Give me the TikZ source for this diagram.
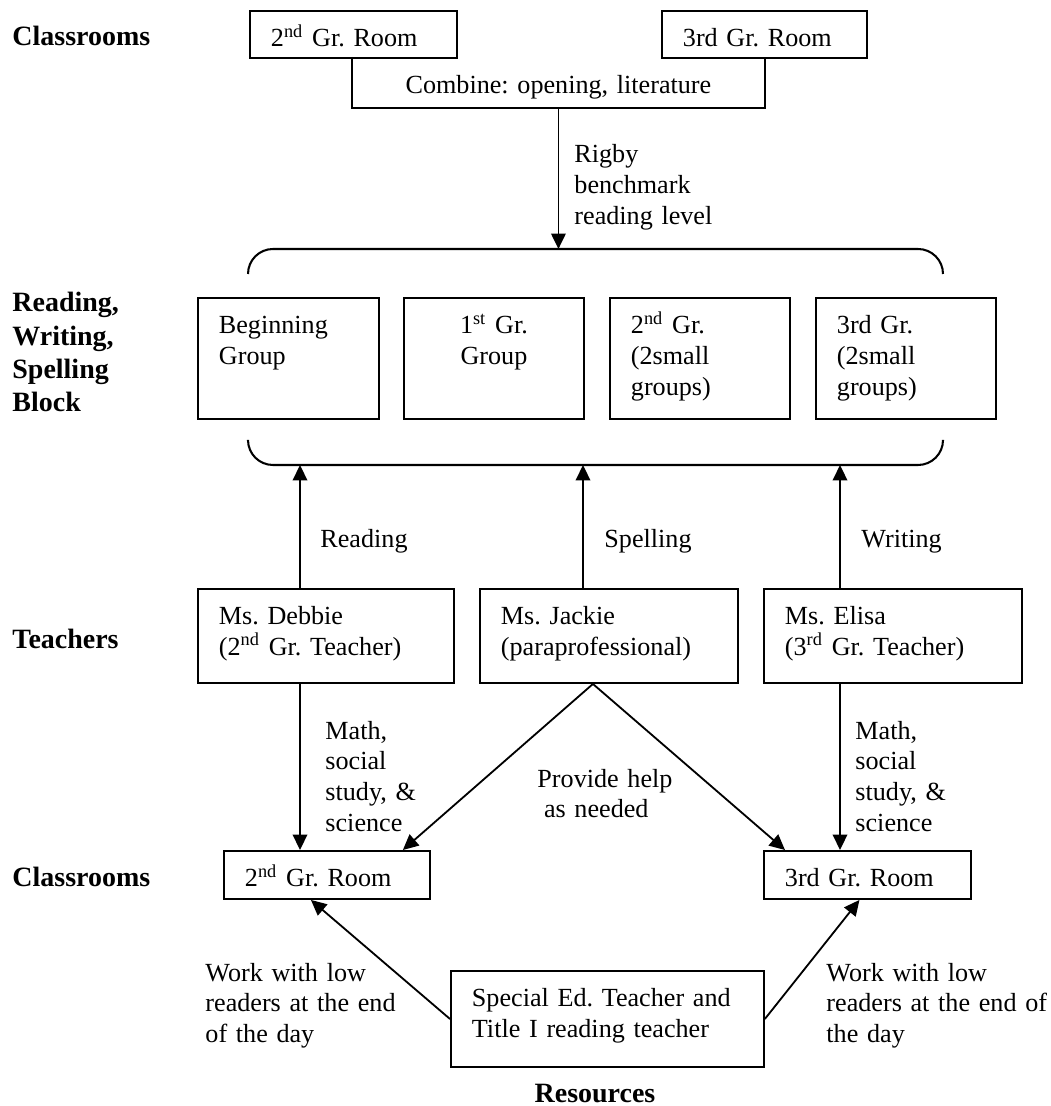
\documentclass[tikz,border=0pt]{standalone}
\usepackage{fontspec}
\setmainfont{Liberation Serif}
\usepackage{tikz}
\usetikzlibrary{arrows.meta,calc}
\tikzset{
	box/.style 2 args={
			draw, line width=0.9pt, anchor=north west, align=left,
			inner xsep=9.2pt, inner ysep=0pt, text height=15.8pt,
			/utils/exec={\pgfmathsetlengthmacro\boxwd{(#1-42)*0.44pt}%
					\pgfmathsetlengthmacro\boxdp{(#2-36)*0.44pt}},
			text width=\boxwd, text depth=\boxdp
		},
	note/.style={anchor=base west, align=left, text width=4cm, inner sep=0pt},
	lbl/.style={anchor=base west, inner sep=0pt, font=\bfseries\fontsize{12.3}{14.6}\selectfont},
	arr/.style={-{Triangle[length=6.8pt,width=6.4pt]}, line width=0.8pt},
	line/.style={line width=0.9pt}
}

\begin{document}
\frenchspacing
\begin{tikzpicture}[x=0.44pt, y=-0.44pt, font=\fontsize{11.5}{13.6}\selectfont]
        \useasboundingbox (0,0) rectangle (1050,1106);

        % Classrooms at the top
        \node[lbl] (cls1) at (12,46) {Classrooms};
        \node[box={207}{47}] (room2a) at (249,10) {2\textsuperscript{nd} Gr. Room};
        \node[box={205}{47}] (room3a) at (661,10) {3rd Gr. Room};
        \node[box={411}{49}, draw=none, align=center] (combine) at (352,57) {Combine: opening, literature};
        \draw[line] (combine.north west) -- (combine.south west) -- (combine.south east) -- (combine.north east);

        % Brackets round the groups
        \coordinate (brtop) at (556,249);
        \coordinate (readx) at (300,465);
        \coordinate (spellx) at (583,465);
        \coordinate (writex) at (840,465);
        \draw[line, rounded corners=11pt] (248,274) -- (248,249) -- (943,249) -- (943,274);
        \draw[line, rounded corners=11pt] (248,441) -- (248,465) -- (943,465) -- (943,441);

        \draw[arr] (combine.south) -- (combine.south |- brtop);
        \node[note] (rigby) at (574,163) {Rigby\\benchmark\\reading level};

        % Reading, writing, spelling block
        \node[lbl, align=left, text width=3cm] (rwsb) at (12,312) {Reading,\\Writing,\\Spelling\\Block};
        \node[box={181}{121}] (beginning) at (197,297) {Beginning\\Group};
        \node[box={180}{121}, align=center] (first) at (403,297) {1\textsuperscript{st} Gr.\\Group};
        \node[box={180}{121}] (second) at (609,297) {2\textsuperscript{nd} Gr.\\(2small\\groups)};
        \node[box={180}{121}] (third) at (815,297) {3rd Gr.\\(2small\\groups)};

        % Teachers
        \node[lbl] (tch) at (12,648) {Teachers};
        \node[box={256}{94}] (debbie) at (197,588) {Ms. Debbie\\(2\textsuperscript{nd} Gr. Teacher)};
        \node[box={258}{94}] (jackie) at (479,588) {Ms. Jackie\\(paraprofessional)};
        \node[box={258}{94}] (elisa) at (763,588) {Ms. Elisa\\(3\textsuperscript{rd} Gr. Teacher)};

        \draw[arr] (readx |- debbie.north) -- (readx);
        \draw[arr] (spellx |- jackie.north) -- (spellx);
        \draw[arr] (writex |- elisa.north) -- (writex);
        \node[note] (reading) at (320,547) {Reading};
        \node[note] (spelling) at (604,547) {Spelling};
        \node[note] (writing) at (861,547) {Writing};

        % Classrooms at the bottom
        \node[lbl] (cls2) at (12,886) {Classrooms};
        \node[box={206}{48}] (room2b) at (223,850) {2\textsuperscript{nd} Gr. Room};
        \node[box={207}{48}] (room3b) at (763,850) {3rd Gr. Room};

        \draw[arr] (readx |- debbie.south) -- (readx |- room2b.north);
        \draw[arr] (writex |- elisa.south) -- (writex |- room3b.north);
        \draw[arr] ($(jackie.south)+(-16,0)$) -- ($(room2b.north east)+(-28,0)$);
        \draw[arr] ($(jackie.south)+(-16,0)$) -- ($(room3b.north west)+(22,0)$);
        \node[note] (math2) at (325,739) {Math,\\social\\study, \&\\science};
        \node[note] (math3) at (855,739) {Math,\\social\\study, \&\\science};
        \node[note] (help) at (537,787) {Provide help\\\hspace*{0.25em}as needed};

        % Resources
        \node[box={313}{96}] (special) at (450,970) {Special Ed. Teacher and\\Title I reading teacher};
        \draw[arr] (special.west) -- ($(room2b.south)+(-16,0)$);
        \draw[arr] (special.east) -- ($(room3b.south)+(-8,0)$);
        \node[note] (low2) at (205,981) {Work with low\\readers at the end\\of the day};
        \node[note] (low3) at (826,981) {Work with low\\readers at the end of\\the day};
        \node[lbl, anchor=base] (res) at (595,1102) {Resources};

    \end{tikzpicture}
\end{document}
